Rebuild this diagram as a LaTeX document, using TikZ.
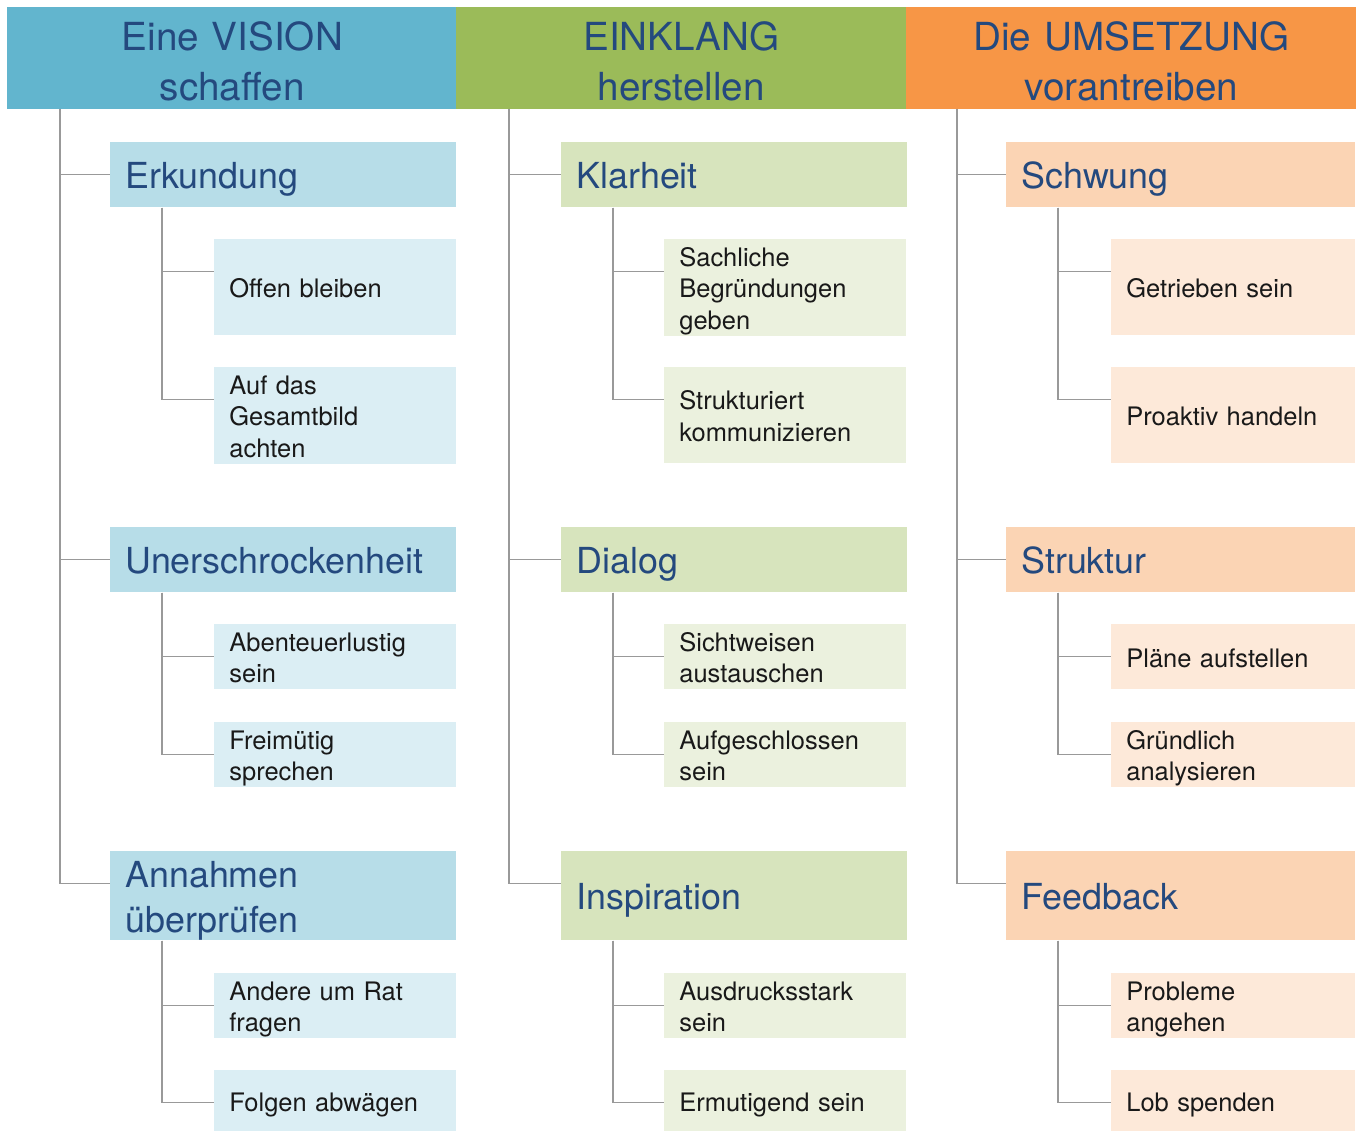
\documentclass[tikz,border=0pt]{standalone}
\usepackage{fontspec}
\setmainfont{TeX Gyre Heros}
\usepackage{xcolor}
\usepackage{tikz}
\usetikzlibrary{calc}

\definecolor{titleblue}{HTML}{24497E}
\definecolor{visiondark}{HTML}{62B5CE}
\definecolor{visionmid}{HTML}{B7DDE8}
\definecolor{visionlight}{HTML}{DBEEF4}
\definecolor{klangdark}{HTML}{9BBB59}
\definecolor{klangmid}{HTML}{D7E4BD}
\definecolor{klanglight}{HTML}{EBF1DE}
\definecolor{tatdark}{HTML}{F79646}
\definecolor{tatmid}{HTML}{FBD4B4}
\definecolor{tatlight}{HTML}{FDE9D9}

\tikzset{
	headbox/.style={fill=#1, text=titleblue, font=\fontsize{22}{28.4}\selectfont,
		align=center, anchor=north west, inner sep=0pt, text width=9cm,
		minimum width=9cm, minimum height=2.04cm,
		execute at begin node={\rule{0pt}{1.1em}},
		execute at end node={\rule[-0.22em]{0pt}{0pt}}},
	grpbox/.style={fill=#1, text=titleblue, font=\fontsize{20.4}{25.5}\selectfont,
		align=left, anchor=north west, inner xsep=0.3cm, inner ysep=0pt,
		text width=6.32cm, minimum height=1.3cm,
		execute at begin node={\rule{0pt}{1em}},
		execute at end node={\rule[-0.22em]{0pt}{0pt}}},
	itembox/.style={fill=#1, text=black!90, font=\fontsize{14.5}{18.1}\selectfont,
		align=left, anchor=north west, inner xsep=0.3cm, inner ysep=0pt,
		text width=4.24cm, minimum height=1.3cm,
		execute at begin node={\rule{0pt}{1.05em}},
		execute at end node={\rule[-0.25em]{0pt}{0pt}}},
	conn/.style={draw=black!40, line width=0.75pt},
}

\begin{document}
\begin{tikzpicture}[x=0.02cm,y=-0.02cm]
		\useasboundingbox (0,0) rectangle (1357,1131);

		% Draw headers
		\node[headbox=visiondark] (h1) at (7,7) {Eine VISION\\schaffen};
		\node[headbox=klangdark] (h2) at (456,7) {EINKLANG\\herstellen};
		\node[headbox=tatdark] (h3) at (906,7) {Die UMSETZUNG\\vorantreiben};

		% Column 1
		\node[grpbox=visionmid] (erk) at (110,142) {Erkundung};
		\node[itembox=visionlight, minimum height=1.92cm] (offen) at (214,239) {Offen bleiben};
		\node[itembox=visionlight, minimum height=1.92cm] (gesamt) at (214,367) {Auf das\\Gesamtbild\\achten};
		\node[grpbox=visionmid] (unt) at (110,527) {Unerschrockenheit};
		\node[itembox=visionlight] (abent) at (214,624) {Abenteuerlustig\\sein};
		\node[itembox=visionlight] (frei) at (214,722) {Freimütig\\sprechen};
		\node[grpbox=visionmid, minimum height=1.78cm] (ann) at (110,851) {Annahmen\\überprüfen};
		\node[itembox=visionlight] (rat) at (214,973) {Andere um Rat\\fragen};
		\node[itembox=visionlight, minimum height=1.22cm] (folgen) at (214,1070) {Folgen abwägen};

		% Column 2
		\node[grpbox=klangmid] (klar) at (561,142) {Klarheit};
		\node[itembox=klanglight, minimum height=1.92cm] (sach) at (664,239) {Sachliche\\Begründungen\\geben};
		\node[itembox=klanglight, minimum height=1.92cm] (strukt) at (664,367) {Strukturiert\\kommunizieren};
		\node[grpbox=klangmid] (dia) at (561,527) {Dialog};
		\node[itembox=klanglight] (sicht) at (664,624) {Sichtweisen\\austauschen};
		\node[itembox=klanglight] (aufg) at (664,722) {Aufgeschlossen\\sein};
		\node[grpbox=klangmid, minimum height=1.78cm] (insp) at (561,851) {Inspiration};
		\node[itembox=klanglight] (ausd) at (664,973) {Ausdrucksstark\\sein};
		\node[itembox=klanglight, minimum height=1.22cm] (ermut) at (664,1070) {Ermutigend sein};

		% Column 3
		\node[grpbox=tatmid, text width=6.38cm] (schw) at (1006,142) {Schwung};
		\node[itembox=tatlight, text width=4.28cm, minimum height=1.92cm] (getr) at (1111,239) {Getrieben sein};
		\node[itembox=tatlight, text width=4.28cm, minimum height=1.92cm] (proakt) at (1111,367) {Proaktiv handeln};
		\node[grpbox=tatmid, text width=6.38cm] (strk) at (1006,527) {Struktur};
		\node[itembox=tatlight, text width=4.28cm] (plan) at (1111,624) {Pläne aufstellen};
		\node[itembox=tatlight, text width=4.28cm] (gruend) at (1111,722) {Gründlich\\analysieren};
		\node[grpbox=tatmid, text width=6.38cm, minimum height=1.78cm] (feed) at (1006,851) {Feedback};
		\node[itembox=tatlight, text width=4.28cm] (probl) at (1111,973) {Probleme\\angehen};
		\node[itembox=tatlight, text width=4.28cm, minimum height=1.22cm] (lob) at (1111,1070) {Lob spenden};

		% Draw connectors
		\coordinate (t1) at (60,109);
		\coordinate (t2) at (509,109);
		\coordinate (t3) at (957,109);
		\foreach \t/\g in {t1/erk,t1/unt,t1/ann,t2/klar,t2/dia,t2/insp,t3/schw,t3/strk,t3/feed}
		\draw[conn] (\t) |- ([yshift=-0.65cm]\g.north west);
		\foreach \g/\a/\b in {erk/offen/gesamt,unt/abent/frei,ann/rat/folgen,
			klar/sach/strukt,dia/sicht/aufg,insp/ausd/ermut,
			schw/getr/proakt,strk/plan/gruend,feed/probl/lob} {
			\draw[conn] ([xshift=1.04cm]\g.south west) |- ([yshift=-0.65cm]\a.north west);
			\draw[conn] ([xshift=1.04cm]\g.south west) |- ([yshift=-0.65cm]\b.north west);
		}

	\end{tikzpicture}
\end{document}
